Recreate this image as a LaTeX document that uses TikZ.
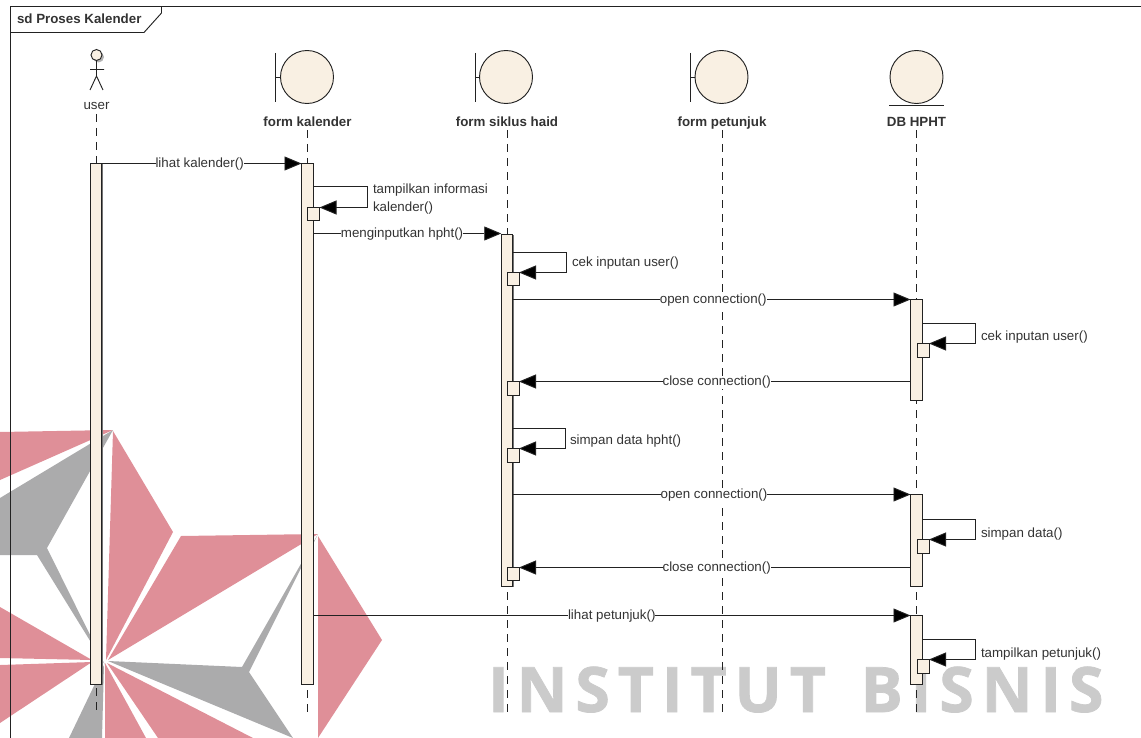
\documentclass[tikz,border=0pt]{standalone}
\usepackage{fontspec}
\setmainfont{Liberation Sans}
\newfontfamily\wmfont[LetterSpace=12.5,FakeBold=1.2]{Open Sans}
\usetikzlibrary{arrows.meta,shadows}
\definecolor{wmpink}{HTML}{DF8F98}
\definecolor{wmgray}{HTML}{ABABAC}
\definecolor{wmtext}{HTML}{CBCBCB}
\definecolor{umlfill}{HTML}{F9F0E3}
\definecolor{umlink}{HTML}{222222}
\definecolor{umltext}{HTML}{333333}
\def\pxu{0.75pt}
\tikzset{
  every node/.style={inner sep=0pt,outer sep=0pt,text=umltext,font=\fontsize{10}{13.5}\selectfont},
  uline/.style={draw=umlink,line width=0.7pt},
  lifeln/.style={draw=umlink,line width=0.7pt,dash pattern=on 6pt off 4.5pt},
  act/.style={rectangle,uline,fill=umlfill,minimum width=11.5*\pxu,general shadow={fill=black!55,shadow xshift=0.6pt,shadow yshift=-0.6pt}},
  selfbox/.style={rectangle,uline,fill=umlfill,minimum width=12*\pxu,minimum height=13.5*\pxu},
  msg/.style={uline,-{Triangle[length=17*\pxu,width=14*\pxu,fill=black]}},
  lbl/.style={fill=white,inner xsep=0pt,inner ysep=0pt,yshift=-0.6pt},
  head/.style={circle,uline,fill=umlfill,minimum size=53*\pxu},
  title/.style={font=\fontsize{10}{11}\selectfont\bfseries,anchor=base},
  note/.style={anchor=west,align=left},
}
\begin{document}
\begin{tikzpicture}[x=0.75pt,y=-0.75pt]
\useasboundingbox (0,0) rectangle (1141,738);
% watermark
\fill[wmpink] (0,432) -- (113,430) -- (0,480) -- cycle;
\fill[wmgray] (113,430) -- (0,498) -- (0,555) -- (37,555) -- (105,665) -- (47,548) -- cycle;
\fill[wmpink] (113,431) -- (173,532) -- (106,660) -- cycle;
\fill[wmpink] (181,536) -- (318,534) -- (108,660) -- cycle;
\fill[wmpink] (318,536) -- (382,640) -- (318,738) -- cycle;
\fill[wmgray] (318,534) -- (242,667) -- (108,661) -- (293,738) -- (249,672) -- cycle;
\fill[wmpink] (107,663) -- (253,738) -- (158,738) -- cycle;
\fill[wmpink] (105,663) -- (146,738) -- (105,738) -- cycle;
\fill[wmgray] (104,665) -- (102,738) -- (69,738) -- cycle;
\fill[wmpink] (0,607) -- (92,660) -- (0,658) -- cycle;
\fill[wmpink] (0,665) -- (92,662) -- (0,723) -- cycle;
\node[anchor=base west,text=wmtext,font=\fontsize{47}{50}\selectfont\bfseries\wmfont] (wm) at (488,712) {INSTITUT \hspace{8pt}BISNIS};
% frame
\draw[uline] (1141,6.5) -- (10.5,6.5) -- (10.5,738);
\draw[uline] (10.5,32.5) -- (144,32.5) -- (161.5,13) -- (161.5,6.5);
\node[title,anchor=base west] (frametitle) at (17,24) {sd Proses Kalender};
% user
\fill[black!30] (98.5,57) circle (5.5);
\draw[uline,fill=umlfill] (96.5,55) circle (5.5);
\draw[uline] (96.5,60.5) -- (96.5,76) (90,69.5) -- (104,69.5) (90,90) -- (96.5,76) -- (103,90);
\node (user) at (96.5,106) {user};
% heads
\draw[uline] (275.5,53) -- (275.5,102) (275.5,77) -- (281,77);
\node[head] (hkal) at (307,77) {};
\node[title] (tkal) at (307.5,127) {form kalender};
\draw[uline] (475.5,53) -- (475.5,102) (475.5,77) -- (480,77);
\node[head] (hsik) at (506,77) {};
\node[title] (tsik) at (507,127) {form siklus haid};
\draw[uline] (690.5,53) -- (690.5,102) (690.5,77) -- (695,77);
\node[head] (hpet) at (721.5,77) {};
\node[title] (tpet) at (722,127) {form petunjuk};
\node[head] (hdb) at (916.5,77) {};
\draw[uline] (889,105.5) -- (944,105.5);
\node[title] (tdb) at (916.5,127) {DB HPHT};
% lifelines
\coordinate (e1) at (96.5,714);
\coordinate (e2) at (307.5,714);
\coordinate (e3) at (507.5,714);
\coordinate (e4) at (722.5,714);
\coordinate (e5) at (916.5,714);
\draw[lifeln] (96.5,114) -- (e1);
\draw[lifeln] (307.5,130) -- (e2);
\draw[lifeln] (507.5,130) -- (e3);
\draw[lifeln] (722.5,130) -- (e4);
\draw[lifeln] (916.5,130) -- (e5);
% activations
\node[act,minimum height=520.5*\pxu] (A1) at (96,423.75) {};
\node[act,minimum height=520.5*\pxu] (K1) at (307.25,423.75) {};
\node[act,minimum height=352*\pxu] (S1) at (507,410) {};
\node[act,minimum height=101*\pxu] (D1) at (916.25,349.5) {};
\node[act,minimum height=92*\pxu] (D2) at (916.25,540) {};
\node[act,minimum height=69*\pxu] (D3) at (916.25,649.5) {};
% small boxes
\node[selfbox] (b1) at (313.5,213.75) {};
\node[selfbox] (b2) at (513,279) {};
\node[selfbox] (b3) at (923,350.25) {};
\node[selfbox] (b4) at (513,388.5) {};
\node[selfbox] (b5) at (513,455.25) {};
\node[selfbox] (b6) at (923,546.25) {};
\node[selfbox] (b7) at (513,574) {};
\node[selfbox] (b8) at (923,666.25) {};
% messages
\draw[msg] (A1.east|-0,163.5) -- node[lbl,pos=.49] {lihat kalender()} (K1.west|-0,163.5);
\draw[msg] (K1.east|-0,186.5) -- (367,186.5) -- (367,207.5) -- (b1.east|-0,207.5);
\node[note] (m2) at (373,199) {tampilkan informasi\\kalender()};
\draw[msg] (K1.east|-0,233.5) -- node[lbl,pos=.473] {menginputkan hpht()} (S1.west|-0,233.5);
\draw[msg] (S1.east|-0,252.5) -- (566,252.5) -- (566,272.5) -- (b2.east|-0,272.5);
\node[note] (m4) at (572,263) {cek inputan user()};
\draw[msg] (S1.east|-0,299.5) -- node[lbl,pos=.504] {open connection()} (D1.west|-0,299.5);
\draw[msg] (D1.east|-0,323.5) -- (975,323.5) -- (975,343.5) -- (b3.east|-0,343.5);
\node[note] (m6) at (981,337) {cek inputan user()};
\draw[msg] (D1.west|-0,381.5) -- node[lbl,pos=.495] {close connection()} (b4.east|-0,381.5);
\draw[msg] (S1.east|-0,428.5) -- (565,428.5) -- (565,448.5) -- (b5.east|-0,448.5);
\node[note] (m8) at (570,441) {simpan data hpht()};
\draw[msg] (S1.east|-0,494.5) -- node[lbl,pos=.506] {open connection()} (D2.west|-0,494.5);
\draw[msg] (D2.east|-0,519.5) -- (975,519.5) -- (975,539.5) -- (b6.east|-0,539.5);
\node[note] (m10) at (981,534) {simpan data()};
\draw[msg] (D2.west|-0,567.5) -- node[lbl,pos=.495] {close connection()} (b7.east|-0,567.5);
\draw[msg] (K1.east|-0,615.5) -- node[lbl,pos=.5] {lihat petunjuk()} (D3.west|-0,615.5);
\draw[msg] (D3.east|-0,639.5) -- (975,639.5) -- (975,659.5) -- (b8.east|-0,659.5);
\node[note] (m13) at (981,654) {tampilkan petunjuk()};
\end{tikzpicture}
\end{document}
